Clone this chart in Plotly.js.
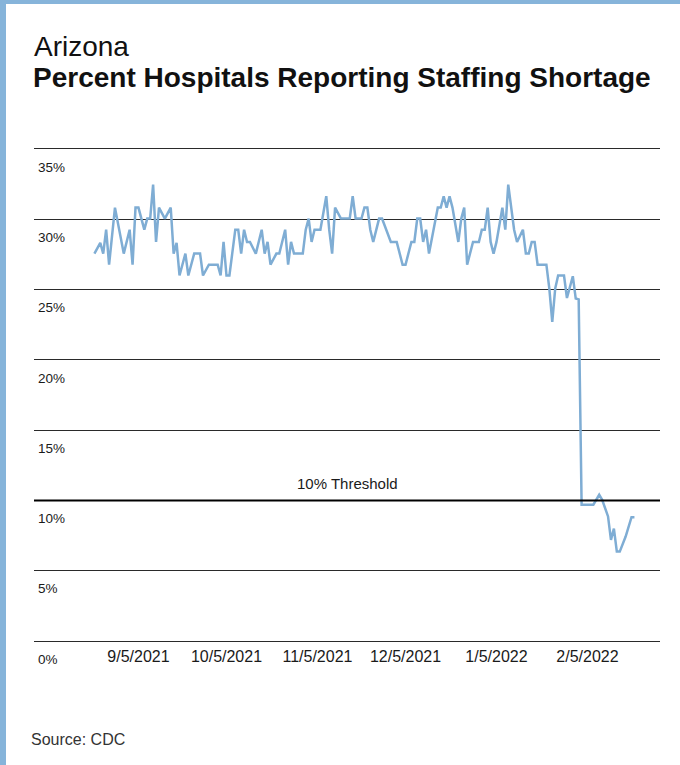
<!DOCTYPE html>
<html>
<head>
<meta charset="utf-8">
<script src="https://cdn.plot.ly/plotly-3.0.1.min.js"></script>
<style>
  html, body { margin: 0; padding: 0; background: #fff; }
  #frame { position: absolute; left: 0; top: 0; width: 680px; height: 765px; box-sizing: border-box;
           border-top: 4px solid #86b4da; border-left: 6px solid #86b4da; background: #fff; }
  #chart { width: 674px; height: 761px; }
</style>
</head>
<body>
<div id="frame"><div id="chart"></div></div>
<script>
const dates = [
  "2021-08-21","2021-08-23","2021-08-24","2021-08-25","2021-08-26","2021-08-28","2021-08-31",
  "2021-09-02","2021-09-03","2021-09-04","2021-09-05","2021-09-07","2021-09-08","2021-09-09",
  "2021-09-10","2021-09-11","2021-09-12","2021-09-14","2021-09-16","2021-09-17","2021-09-18",
  "2021-09-19","2021-09-21","2021-09-22","2021-09-24","2021-09-26","2021-09-27","2021-09-29",
  "2021-10-02","2021-10-03","2021-10-04","2021-10-05","2021-10-06","2021-10-08","2021-10-09",
  "2021-10-10","2021-10-11","2021-10-12","2021-10-13","2021-10-15","2021-10-17","2021-10-18",
  "2021-10-19","2021-10-20","2021-10-22","2021-10-23","2021-10-25","2021-10-26","2021-10-27",
  "2021-10-28","2021-10-31","2021-11-01","2021-11-02","2021-11-03","2021-11-04","2021-11-06",
  "2021-11-08","2021-11-09","2021-11-10","2021-11-11","2021-11-13","2021-11-16","2021-11-17",
  "2021-11-18","2021-11-20","2021-11-21","2021-11-22","2021-11-23","2021-11-24","2021-11-26",
  "2021-11-27","2021-11-30","2021-12-02","2021-12-04","2021-12-05","2021-12-07","2021-12-08",
  "2021-12-09","2021-12-10","2021-12-11","2021-12-12","2021-12-13","2021-12-16","2021-12-17",
  "2021-12-18","2021-12-19","2021-12-20","2021-12-21","2021-12-23","2021-12-24","2021-12-25",
  "2021-12-26","2021-12-28","2021-12-30","2021-12-31","2022-01-01","2022-01-02","2022-01-03",
  "2022-01-04","2022-01-05","2022-01-07","2022-01-08","2022-01-09","2022-01-10","2022-01-11",
  "2022-01-12","2022-01-14","2022-01-15","2022-01-16","2022-01-17","2022-01-18","2022-01-19",
  "2022-01-22","2022-01-23","2022-01-24","2022-01-25","2022-01-26","2022-01-28","2022-01-29",
  "2022-01-31","2022-02-01","2022-02-02","2022-02-03","2022-02-07","2022-02-09","2022-02-10",
  "2022-02-12","2022-02-13","2022-02-14","2022-02-15","2022-02-16","2022-02-18","2022-02-20",
  "2022-02-21"
];
const pct = [
  27.56,28.32,27.56,29.26,26.77,30.83,27.56,
  29.26,26.77,30.83,30.83,29.26,30.05,30.05,
  32.47,28.39,30.83,30.05,30.83,27.56,28.32,
  26.0,27.56,26.0,27.56,27.56,26.0,26.77,
  26.77,26.0,28.39,26.0,26.0,29.26,29.26,
  27.56,29.26,28.39,28.39,27.56,29.26,27.56,
  28.39,26.77,27.56,27.56,29.26,26.77,28.39,
  27.56,27.56,29.26,30.05,28.39,29.26,29.26,
  31.64,29.26,27.56,30.83,30.05,30.05,31.64,
  30.05,30.05,30.83,30.83,29.26,28.39,30.05,
  30.05,28.39,28.39,26.77,26.77,28.39,28.39,
  30.05,30.05,28.39,29.26,27.56,30.83,30.83,
  31.64,30.83,31.64,30.83,28.39,30.05,30.83,
  26.77,28.39,28.39,29.26,29.26,30.83,28.39,
  27.56,28.39,30.83,29.26,32.47,30.83,29.26,
  28.39,29.26,27.56,27.56,28.39,28.39,26.77,
  26.77,25.07,22.7,25.07,26.0,26.0,24.4,
  25.95,24.36,24.3,9.7,9.7,10.4,10.05,
  8.86,7.19,8.0,6.36,6.36,7.43,8.81,
  8.81
];
const yTicks = [0, 5, 10, 15, 20, 25, 30, 35];
const yTickText = ["0%", "5%", "10%", "15%", "20%", "25%", "30%", "35%"];
const xTicks = ["2021-09-05", "2021-10-05", "2021-11-05", "2021-12-05", "2022-01-05", "2022-02-05"];
const xTickText = ["9/5/2021", "10/5/2021", "11/5/2021", "12/5/2021", "1/5/2022", "2/5/2022"];
const threshold = 10;
const thresholdLabel = "10% Threshold";
const titleTop = "Arizona";
const titleMain = "Percent Hospitals Reporting Staffing Shortage";
const sourceText = "Source: CDC";

const FONT = "'Liberation Sans', Arial, sans-serif";
const GRID = "#2a2a2a";

const trace = {
  x: dates, y: pct, type: "scatter", mode: "lines",
  line: { color: "#7fadd4", width: 2.5, shape: "linear" },
  hoverinfo: "skip"
};

const layout = {
  width: 674, height: 761,
  margin: { l: 28, r: 20, t: 145, b: 124 },
  paper_bgcolor: "#fff", plot_bgcolor: "#fff",
  showlegend: false,
  font: { family: FONT, color: "#1a1a1a" },
  xaxis: {
    type: "date",
    range: ["2021-07-31 10:00", "2022-03-01 17:00"],
    tickvals: xTicks, ticktext: xTickText,
    showgrid: false, zeroline: false,
    showline: true, mirror: true, linecolor: GRID, linewidth: 1,
    ticks: "",
    ticklabelstandoff: 1,
    tickfont: { family: FONT, size: 16, color: "#1a1a1a" },
    fixedrange: true
  },
  yaxis: {
    range: [0, 35],
    tickvals: yTicks, ticktext: yTickText,
    showgrid: true, gridcolor: GRID, gridwidth: 1,
    zeroline: false, showline: false, ticks: "",
    ticklabelposition: "inside",
    ticklabelshift: 18,
    ticklabelstandoff: 1,
    ticklabeloverflow: "allow",
    tickfont: { family: FONT, size: 13.5, color: "#1a1a1a" },
    fixedrange: true
  },
  shapes: [
    { type: "line", xref: "paper", x0: 0, x1: 1, yref: "y", y0: threshold, y1: threshold,
      line: { color: "#000", width: 2 } }
  ],
  annotations: [
    { text: titleTop, xref: "paper", x: 0, xshift: -1, xanchor: "left",
      yref: "paper", y: 1, yanchor: "bottom", yshift: 86, borderpad: 0, showarrow: false,
      font: { family: FONT, size: 28, color: "#111" } },
    { text: "<b>" + titleMain + "</b>", xref: "paper", x: 0, xshift: -2, xanchor: "left",
      yref: "paper", y: 1, yanchor: "bottom", yshift: 55, borderpad: 0, showarrow: false,
      font: { family: FONT, size: 28, color: "#111" } },
    { text: thresholdLabel, xref: "paper", x: 0.5, yref: "y", y: threshold, yanchor: "bottom",
      yshift: 6, showarrow: false, font: { family: FONT, size: 15, color: "#1a1a1a" } },
    { text: sourceText, xref: "paper", x: 0, xshift: -5, xanchor: "left", yref: "paper", y: 0,
      yanchor: "top", yshift: -88, showarrow: false, font: { family: FONT, size: 16, color: "#333" } }
  ]
};

Plotly.newPlot("chart", [trace], layout, { displayModeBar: false, staticPlot: true });
</script>
</body>
</html>
